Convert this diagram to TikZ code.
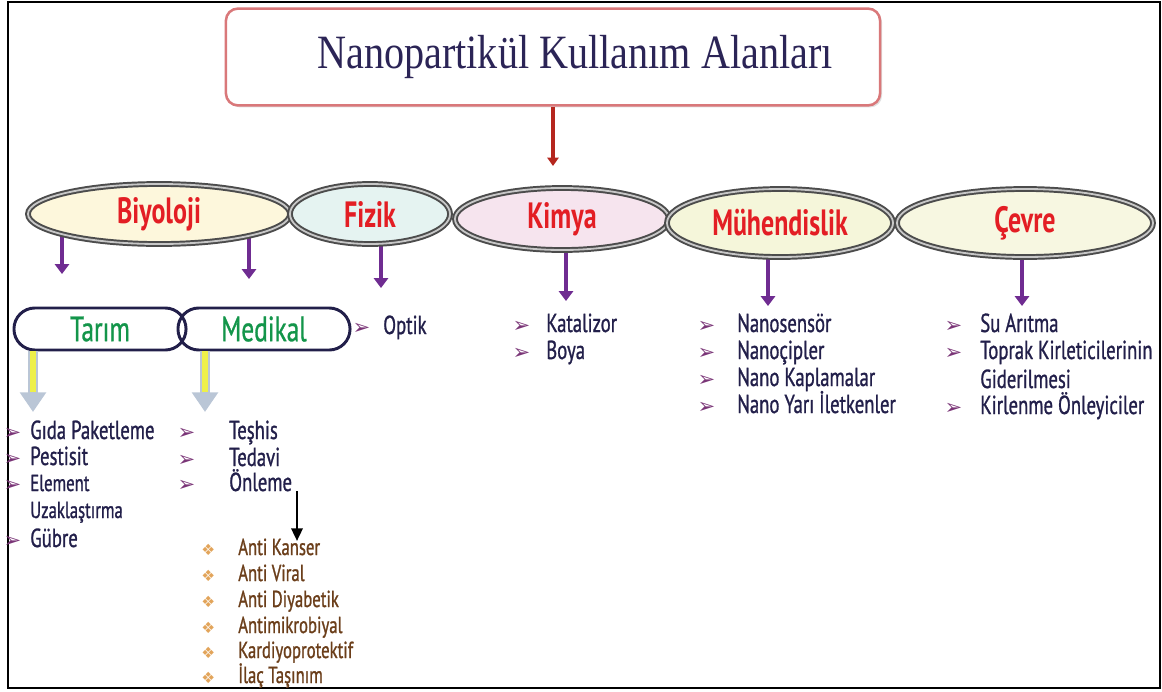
\documentclass[tikz,border=0pt]{standalone}
\usepackage{fontspec}
\setmainfont{PT Sans}[FakeStretch=0.72, FakeBold=1.0]
\newfontfamily\titlefont{Liberation Serif}[FakeStretch=0.84]
\newfontfamily\headfont{PT Sans}[FakeStretch=0.71]
\newfontfamily\subfont{PT Sans}[FakeStretch=0.72, FakeBold=0.8]
\newfontfamily\symfont{DejaVu Sans}
\usetikzlibrary{shapes.geometric,arrows.meta,shadows,backgrounds}

\definecolor{titlenavy}{HTML}{2B2456}
\definecolor{titlerim}{HTML}{D9787A}
\definecolor{headred}{HTML}{E31E24}
\definecolor{subgreen}{HTML}{13954A}
\definecolor{itemnavy}{HTML}{221F4A}
\definecolor{itembrown}{HTML}{6B3E1A}
\definecolor{arrpurple}{HTML}{6F2C91}
\definecolor{arrred}{HTML}{B5261E}
\definecolor{arryellow}{HTML}{EEF04A}
\definecolor{arrgrey}{HTML}{BAC6D6}
\definecolor{bulpurple}{HTML}{7A3577}
\definecolor{bulorange}{HTML}{E2A45A}
\definecolor{fillbio}{HTML}{FDF7DC}
\definecolor{fillfiz}{HTML}{E5F3F1}
\definecolor{fillkim}{HTML}{F6E4EE}
\definecolor{fillmuh}{HTML}{F5F6DA}
\definecolor{fillcev}{HTML}{F7F7E1}

\newlength\pxu
\setlength\pxu{0.025cm}
\newcommand\bul[1]{\llap{\textcolor{bulpurple}{\symfont\fontsize{15}{15}\selectfont ➢}\hspace{#1\pxu}}}
\newcommand\flw[1]{\llap{\textcolor{bulorange}{\symfont\fontsize{11}{11}\selectfont ❖}\hspace{#1\pxu}}}

\tikzset{
    titlebox/.style={draw=titlerim, line width=1.8pt, fill=white, rounded corners=0.3cm,
            minimum width=16.35cm, minimum height=2.42cm, text=titlenavy,
            drop shadow={opacity=0.25, shadow xshift=0.05cm, shadow yshift=-0.05cm},
            font=\titlefont\fontsize{34}{34}\selectfont},
    area/.style={ellipse, draw=black!70, line width=1.4pt, double=black!22, double distance=1.3pt,
            inner sep=0pt, text=headred, font=\headfont\fontsize{26}{26}\selectfont\bfseries},
    subarea/.style={draw=itemnavy, line width=2.1pt, rounded corners=0.52cm,
            minimum width=4.3cm, minimum height=1.05cm, text=subgreen,
            font=\subfont\fontsize{25}{25}\selectfont},
    item/.style={anchor=base west, inner sep=0pt, text=itemnavy, font=\fontsize{18.5}{18.5}\selectfont},
    smallitem/.style={item, font=\fontsize{16.5}{16.5}\selectfont},
    cure/.style={item, text=itembrown, font=\fontsize{16.5}{16.5}\selectfont},
    purparrow/.style={draw=arrpurple, line width=3.5pt, -{Triangle[width=10pt,length=7pt]}},
    redarrow/.style={draw=arrred, line width=3pt, -{Triangle[width=8pt,length=6pt]}},
    blackarrow/.style={draw=black, line width=1.8pt, -{Triangle[width=8pt,length=9pt]}},
    yelarrow/.style={draw=arrgrey, line width=7.5pt, -{Triangle[width=18pt,length=14pt]},
            postaction={draw=arryellow, line width=4.2pt, -, shorten >=14pt}}
}

\begin{document}
\begin{tikzpicture}[x=0.025cm, y=-0.025cm]
    \useasboundingbox (0,0) rectangle (1162,691);
    \draw[line width=1.8pt] (8,2) rectangle (1160,688);

    % title
    \node[titlebox] (title) at (553,57) {\hspace*{44\pxu}Nanopartikül Kullanım Alanları};
    \coordinate (redtip) at (553,166);
    \draw[redarrow] (title.south) -- (redtip);

    % fields
    \node[area, fill=fillbio, minimum width=6.55cm, minimum height=1.5cm] (biyo) at (159,214) {Biyoloji};
    \node[area, fill=fillfiz, minimum width=4cm, minimum height=1.5cm] (fizik) at (370,214) {Fizik};
    \node[area, fill=fillkim, minimum width=5.35cm, minimum height=1.55cm] (kimya) at (562,219) {Kimya};
    \node[area, fill=fillmuh, minimum width=5.65cm, minimum height=1.7cm] (muh) at (780,223) {Mühendislik};
    \node[area, fill=fillcev, minimum width=6.4cm, minimum height=1.7cm] (cevre) at (1025,223) {Çevre};

    \coordinate (tarimtip) at (62,274);
    \coordinate (medtip) at (249,279);
    \coordinate (fiziktip) at (381,288);
    \coordinate (kimyatip) at (566,301);
    \coordinate (muhtip) at (768,306);
    \coordinate (cevretip) at (1022,306);
    \begin{pgfonlayer}{background}
        \draw[purparrow] (tarimtip |- biyo.center) -- (tarimtip);
        \draw[purparrow] (medtip |- biyo.center) -- (medtip);
        \draw[purparrow] (fiziktip |- fizik.center) -- (fiziktip);
        \draw[purparrow] (kimyatip |- kimya.center) -- (kimyatip);
        \draw[purparrow] (muhtip |- muh.center) -- (muhtip);
        \draw[purparrow] (cevretip |- cevre.center) -- (cevretip);
    \end{pgfonlayer}

    % biyoloji branches
    \node[subarea] (tarim) at (100,329) {Tarım};
    \node[subarea] (medikal) at (264,329) {Medikal};
    \coordinate (tarimyel) at (33,412);
    \coordinate (medyel) at (205,412);
    \draw[yelarrow] (tarimyel |- tarim.south) -- (tarimyel);
    \draw[yelarrow] (medyel |- medikal.south) -- (medyel);

    \node[item] (gida) at (30,439) {\bul{9}Gıda Paketleme};
    \node[item] (pestisit) at (30,465) {\bul{9}Pestisit};
    \node[smallitem] (element) at (30,491) {\bul{9}Element};
    \node[smallitem] (uzak) at (30,518) {Uzaklaştırma};
    \node[item] (gubre) at (30,547) {\bul{9}Gübre};

    \node[item] (teshis) at (229,439) {\bul{34}Teşhis};
    \node[item] (tedavi) at (229,466) {\bul{34}Tedavi};
    \node[item] (onleme) at (229,491) {\bul{34}Önleme};
    \coordinate (curetip) at (297,541);
    \draw[blackarrow] (curetip |- onleme.base) -- (curetip);

    \node[cure] (kanser) at (238,555) {\flw{23}Anti Kanser};
    \node[cure] (viral) at (238,581) {\flw{23}Anti Viral};
    \node[cure] (diyabet) at (238,607) {\flw{23}Anti Diyabetik};
    \node[cure] (mikrob) at (238,633) {\flw{23}Antimikrobiyal};
    \node[cure] (kardiyo) at (238,658) {\flw{23}Kardiyoprotektif};
    \node[cure] (ilac) at (238,683) {\flw{23}İlaç Taşınım};

    % other lists
    \node[item] (optik) at (383,334) {\bul{13}Optik};

    \node[item] (katalizor) at (546,332) {\bul{16}Katalizor};
    \node[item] (boya) at (546,359) {\bul{16}Boya};

    \node[item] (sensor) at (737,332) {\bul{22}Nanosensör};
    \node[item] (cipler) at (737,359) {\bul{22}Nanoçipler};
    \node[item] (kaplama) at (737,386) {\bul{22}Nano Kaplamalar};
    \node[item] (yariilet) at (737,413) {\bul{22}Nano Yarı İletkenler};

    \node[item] (suaritma) at (980,332) {\bul{18}Su Arıtma};
    \node[item] (toprak) at (980,359) {\bul{18}Toprak Kirleticilerinin};
    \node[item] (gider) at (980,388) {Giderilmesi};
    \node[item] (kirlenme) at (980,414) {\bul{18}Kirlenme Önleyiciler};
\end{tikzpicture}
\end{document}
